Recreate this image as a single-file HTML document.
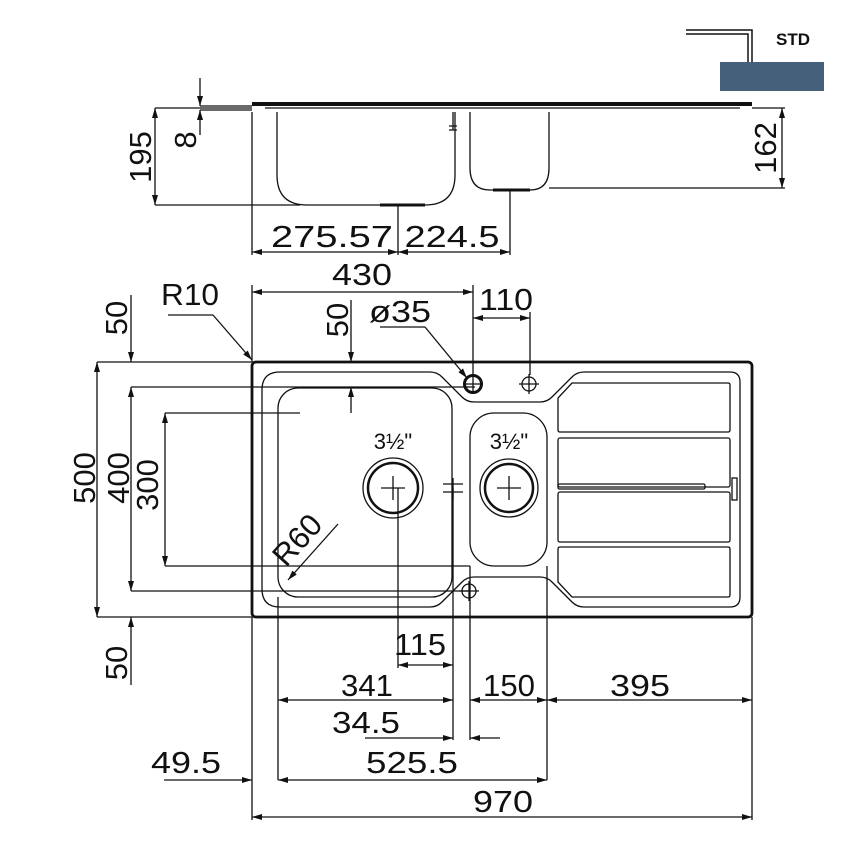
<!DOCTYPE html>
<html><head><meta charset="utf-8"><style>
html,body{margin:0;padding:0;background:#fff;}
svg{display:block;}
text{font-family:"Liberation Sans",sans-serif;fill:#111;}
</style></head><body>
<svg width="850" height="850" viewBox="0 0 850 850" xmlns="http://www.w3.org/2000/svg">
<defs>
<marker id="a" viewBox="0 0 10 6" refX="10" refY="3" markerWidth="10" markerHeight="6" orient="auto-start-reverse" markerUnits="userSpaceOnUse"><path d="M0,0 L10,3 L0,6 z" fill="#111"/></marker>
</defs>
<g stroke="#111" fill="none" stroke-width="1.3">

<!-- STD icon -->
<path d="M686,30 H752 V63" stroke-width="1.5"/>
<path d="M686,34 H748 V63" stroke-width="1.5"/>
<rect x="720" y="62" width="104" height="29" fill="#44607a" stroke="none"/>

<!-- side elevation -->
<path d="M252,104 H752" stroke-width="4"/>
<path d="M200,106 H252 M200,110 H252"/>
<path d="M265,108 H740"/>
<path d="M277,112 V175 Q277,205 307,205 H425 Q455,205 455,175 V112"/>
<path d="M470,112 V168 Q470,190 490,190 H530 Q549,190 549,168 V112"/>
<path d="M380,205 H425" stroke-width="3"/>
<path d="M493,190 H530" stroke-width="3"/>
<path d="M453,112 V130 M449,126 H457 M449,130 H457"/>
<!-- 195 -->
<path d="M155,108 H252 M155,205 H300"/>
<line x1="155" y1="108" x2="155" y2="205" marker-start="url(#a)" marker-end="url(#a)"/>
<!-- 8 -->
<line x1="200" y1="78" x2="200" y2="106" marker-end="url(#a)"/>
<line x1="200" y1="135" x2="200" y2="110" marker-end="url(#a)"/>
<!-- 162 -->
<path d="M752,108 H785 M549,188 H785"/>
<line x1="782" y1="108" x2="782" y2="188" marker-start="url(#a)" marker-end="url(#a)"/>
<!-- 275.57 / 224.5 -->
<path d="M252,112 V255 M398,205 V255 M510,190 V255"/>
<line x1="252" y1="252" x2="398" y2="252" marker-start="url(#a)" marker-end="url(#a)"/>
<line x1="398" y1="252" x2="510" y2="252" marker-start="url(#a)" marker-end="url(#a)"/>

<!-- plan view -->
<rect x="252" y="362" width="500" height="255" rx="4" stroke-width="2.8"/>
<path d="M280,372 H430 Q437,372 442,377 L462,397 Q467,402 474,402 H540 Q547,402 552,397 L572,377 Q577,372 584,372 H730 Q740,372 740,382 V597 Q740,607 730,607 H584 Q577,607 572,602 L552,582 Q547,577 540,577 H474 Q467,577 462,582 L442,602 Q437,607 430,607 H280 Q262,607 262,589 V390 Q262,372 280,372 Z"/>
<rect x="278" y="388" width="174" height="209" rx="20"/>
<rect x="470" y="413" width="77" height="153" rx="24"/>
<!-- drainer ribs -->
<path d="M572,383 H728 Q730,383 730,385 V430 Q730,432 728,432 H560 Q558,432 558,430 V398 Z"/>
<rect x="558" y="438" width="172" height="49" rx="2"/>
<rect x="558" y="492" width="172" height="50" rx="2"/>
<path d="M560,547 H728 Q730,547 730,549 V595 Q730,597 728,597 H572 L558,582 V549 Q558,547 560,547 Z"/>
<rect x="558" y="484" width="147" height="5" rx="1.5"/>
<rect x="732" y="478" width="5" height="22"/>
<!-- holes -->
<circle cx="473" cy="384" r="8.5" stroke-width="3"/>
<path d="M473,374 V394 M463,384 H483"/>
<circle cx="529" cy="384" r="7"/>
<path d="M529,374 V394 M519,384 H539"/>
<circle cx="469" cy="591" r="7"/>
<path d="M469,581 V601 M459,591 H479"/>
<!-- wastes -->
<circle cx="393" cy="488" r="30"/>
<circle cx="393" cy="488" r="25" stroke-width="2.5"/>
<path d="M381,488 H405 M393,476 V500"/>
<circle cx="509" cy="488" r="29"/>
<circle cx="509" cy="488" r="24" stroke-width="2.5"/>
<path d="M497,488 H521 M509,476 V500"/>
<path d="M443,484 H463 M443,492 H463 M453,478 V500"/>

<!-- dimensions plan -->
<path d="M97,362 H252 M131,387 H475 M165,413 H300 M165,566 H470 M131,591 H470 M97,617 H252"/>
<line x1="97" y1="362" x2="97" y2="617" marker-start="url(#a)" marker-end="url(#a)"/>
<line x1="131" y1="387" x2="131" y2="591" marker-start="url(#a)" marker-end="url(#a)"/>
<line x1="165" y1="413" x2="165" y2="566" marker-start="url(#a)" marker-end="url(#a)"/>
<line x1="131" y1="295" x2="131" y2="362" marker-end="url(#a)"/>
<line x1="131" y1="685" x2="131" y2="617" marker-end="url(#a)"/>
<line x1="351" y1="300" x2="351" y2="362" marker-end="url(#a)"/>
<line x1="351" y1="413" x2="351" y2="387" marker-end="url(#a)"/>
<!-- 430 / 110 -->
<path d="M252,285 V362 M473,285 V375 M530,312 V375" />
<line x1="252" y1="292" x2="473" y2="292" marker-start="url(#a)" marker-end="url(#a)"/>
<line x1="473" y1="318" x2="530" y2="318" marker-start="url(#a)" marker-end="url(#a)"/>
<!-- leaders -->
<path d="M168,315 H213"/>
<line x1="213" y1="315" x2="252" y2="360" marker-end="url(#a)"/>
<path d="M380,327 H425"/>
<line x1="425" y1="327" x2="467" y2="378" marker-end="url(#a)"/>
<line x1="338" y1="524" x2="288" y2="580" marker-end="url(#a)"/>
<!-- bottom dims -->
<path d="M252,617 V820 M278,597 V780 M398,488 V668 M453,488 V740 M470,566 V740 M547,566 V780 M752,617 V820"/>
<line x1="398" y1="665" x2="453" y2="665" marker-start="url(#a)" marker-end="url(#a)"/>
<line x1="278" y1="700" x2="453" y2="700" marker-start="url(#a)" marker-end="url(#a)"/>
<line x1="470" y1="700" x2="547" y2="700" marker-start="url(#a)" marker-end="url(#a)"/>
<line x1="547" y1="700" x2="752" y2="700" marker-start="url(#a)" marker-end="url(#a)"/>
<line x1="365" y1="738" x2="453" y2="738" marker-end="url(#a)"/>
<line x1="500" y1="738" x2="470" y2="738" marker-end="url(#a)"/>
<line x1="164" y1="780" x2="252" y2="780" marker-end="url(#a)"/>
<line x1="278" y1="780" x2="547" y2="780" marker-start="url(#a)" marker-end="url(#a)"/>
<line x1="252" y1="817" x2="752" y2="817" marker-start="url(#a)" marker-end="url(#a)"/>
</g>

<!-- text -->
<text x="776" y="45" font-size="17" font-weight="bold">STD</text>
<g font-size="31">
<text transform="translate(151,157) rotate(-90)" text-anchor="middle">195</text>
<text transform="translate(196,140) rotate(-90)" text-anchor="middle">8</text>
<text transform="translate(776,148) rotate(-90)" text-anchor="middle">162</text>
<text x="332" y="247" text-anchor="middle" textLength="122" lengthAdjust="spacingAndGlyphs">275.57</text>
<text x="452" y="247" text-anchor="middle" textLength="95" lengthAdjust="spacingAndGlyphs">224.5</text>
<text x="362" y="285" text-anchor="middle" textLength="60" lengthAdjust="spacingAndGlyphs">430</text>
<text x="506" y="310" text-anchor="middle" textLength="54" lengthAdjust="spacingAndGlyphs">110</text>
<text x="190" y="305" text-anchor="middle" textLength="58" lengthAdjust="spacingAndGlyphs">R10</text>
<text x="400" y="322" text-anchor="middle" textLength="62" lengthAdjust="spacingAndGlyphs">ø35</text>
<text transform="translate(127,318) rotate(-90)" text-anchor="middle">50</text>
<text transform="translate(348,320) rotate(-90)" text-anchor="middle">50</text>
<text transform="translate(127,663) rotate(-90)" text-anchor="middle">50</text>
<text transform="translate(95,478) rotate(-90)" text-anchor="middle">500</text>
<text transform="translate(129,478) rotate(-90)" text-anchor="middle">400</text>
<text transform="translate(158,485) rotate(-90)" text-anchor="middle">300</text>
<text transform="translate(305,547) rotate(-48)" text-anchor="middle">R60</text>
<text x="420" y="655" text-anchor="middle" textLength="52" lengthAdjust="spacingAndGlyphs">115</text>
<text x="367" y="696" text-anchor="middle" textLength="52" lengthAdjust="spacingAndGlyphs">341</text>
<text x="509" y="696" text-anchor="middle" textLength="52" lengthAdjust="spacingAndGlyphs">150</text>
<text x="640" y="696" text-anchor="middle" textLength="60" lengthAdjust="spacingAndGlyphs">395</text>
<text x="366" y="733" text-anchor="middle" textLength="68" lengthAdjust="spacingAndGlyphs">34.5</text>
<text x="186" y="773" text-anchor="middle" textLength="70" lengthAdjust="spacingAndGlyphs">49.5</text>
<text x="412" y="773" text-anchor="middle" textLength="92" lengthAdjust="spacingAndGlyphs">525.5</text>
<text x="503" y="812" text-anchor="middle" textLength="60" lengthAdjust="spacingAndGlyphs">970</text>
</g>
<g font-size="22">
<text x="393" y="449" text-anchor="middle">3½"</text>
<text x="509" y="449" text-anchor="middle">3½"</text>
</g>
</svg>
</body></html>
